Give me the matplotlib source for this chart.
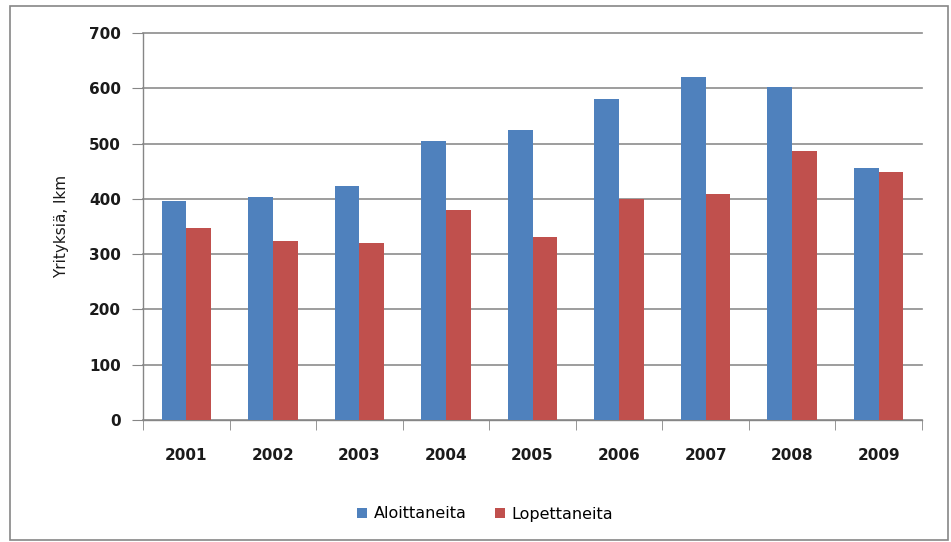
import matplotlib
matplotlib.use("Agg")
import matplotlib.pyplot as plt
import numpy as np
from matplotlib.patches import Rectangle

years = ["2001", "2002", "2003", "2004", "2005", "2006", "2007", "2008", "2009"]
aloittaneita = [396, 403, 424, 505, 524, 581, 620, 603, 455]
lopettaneita = [348, 324, 320, 379, 331, 399, 409, 486, 448]
yticks = [0, 100, 200, 300, 400, 500, 600, 700]

plt.rcParams['font.family'] = ['DejaVu Sans']

fig = plt.figure(figsize=(9.51, 5.42), dpi=100)
# outer border
fig.patches.append(Rectangle((10/951, 1-540/542), 938/951, 534/542, transform=fig.transFigure,
                             fill=False, edgecolor='#868686', linewidth=1.2))
ax = fig.add_axes([143/951, 1-420/542, (922-143)/951, (420-33)/542])

x = np.arange(len(years))
w = 0.285
ax.bar(x - w/2, aloittaneita, w, color='#4F81BD', label='Aloittaneita', zorder=3)
ax.bar(x + w/2, lopettaneita, w, color='#C0504D', label='Lopettaneita', zorder=3)

ax.set_xlim(-0.5, len(years) - 0.5)
ax.set_ylim(0, 700)
ax.set_yticks(yticks)
ax.set_yticklabels([str(v) for v in yticks], fontsize=11, fontweight='bold', color='#1a1a1a')
ax.set_xticks(x)
ax.set_xticklabels(years, fontsize=11, fontweight='bold', color='#1a1a1a')
ax.set_xticks(np.arange(-0.5, len(years)), minor=True)
ax.tick_params(axis='x', which='major', length=0, pad=20)
ax.tick_params(axis='x', which='minor', length=7, color='#868686', direction='out')
ax.tick_params(axis='y', length=8, color='#868686', direction='out', pad=8)
ax.grid(axis='y', color='#8c8c8c', linewidth=1.2, zorder=0)
for gl in ax.get_ygridlines():
    gl.set_clip_on(False)
for s in ['top', 'right']:
    ax.spines[s].set_visible(False)
for s in ['left', 'bottom']:
    ax.spines[s].set_color('#868686')
    ax.spines[s].set_linewidth(1.0)
ax.set_ylabel('Yrityksiä, lkm', fontsize=11, labelpad=14, color='#1a1a1a')

ax.legend(loc='center', bbox_to_anchor=(485/951, 1-514/542), bbox_transform=fig.transFigure,
          ncol=2, frameon=False, fontsize=11.5, handlelength=0.6, handleheight=0.6,
          handletextpad=0.4, columnspacing=1.8)

fig.savefig('out.png', dpi=100)
